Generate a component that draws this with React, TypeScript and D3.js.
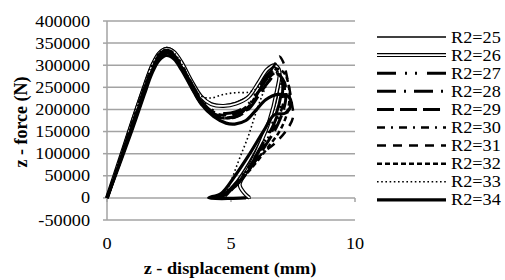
import * as d3 from "d3";

const W = 505;
const H = 280;
const PLOT = { left: 107, right: 355, top: 21, bottom: 220 };

const xTicks = [0, 5, 10];
const yTicks = [-50000, 0, 50000, 100000, 150000, 200000, 250000, 300000, 350000, 400000];

const seriesNames = ["R2=25", "R2=26", "R2=27", "R2=28", "R2=29", "R2=30", "R2=31", "R2=32", "R2=33", "R2=34"];

// displacement (mm), force (N)
const r25: [number, number][] = [
  [0, 0], [0.5, 88000], [1.0, 176000], [1.5, 258000], [1.8, 302000], [2.1, 330000], [2.4, 340000], [2.7, 333000],
  [3.0, 310000], [3.4, 268000], [3.8, 232000], [4.2, 214000], [4.7, 210000], [5.2, 216000], [5.7, 230000],
  [6.1, 258000], [6.45, 285000], [6.75, 296000], [6.95, 282000], [6.9, 238000], [6.6, 180000], [6.1, 120000],
  [5.6, 70000], [5.1, 30000], [4.6, 6000], [4.2, 0], [5.8, 0],
];
const r26: [number, number][] = [
  [0, 0], [0.5, 84000], [1.0, 169000], [1.5, 251000], [1.8, 297000], [2.1, 327000], [2.4, 337000], [2.7, 330000],
  [3.0, 307000], [3.4, 265000], [3.8, 229000], [4.2, 212000], [4.7, 208000], [5.2, 213000], [5.7, 228000],
  [6.1, 260000], [6.45, 290000], [6.75, 300000], [6.95, 287000], [6.85, 242000], [6.55, 175000], [6.1, 112000],
  [5.7, 66000], [5.35, 30000], [5.55, 10000], [5.75, 0],
];
const r27: [number, number][] = [
  [0, 0], [0.5, 82000], [1.0, 165000], [1.5, 247000], [1.8, 293000], [2.1, 324000], [2.4, 334000], [2.7, 326000],
  [3.0, 302000], [3.4, 260000], [3.8, 222000], [4.2, 200000], [4.7, 191000], [5.2, 195000], [5.7, 212000],
  [6.1, 245000], [6.45, 278000], [6.75, 290000], [7.0, 275000], [7.0, 228000], [6.7, 172000], [6.2, 115000],
  [5.6, 60000], [5.0, 20000], [4.5, 0],
];
const r28: [number, number][] = [
  [0, 0], [0.5, 81000], [1.0, 163000], [1.5, 244000], [1.8, 291000], [2.1, 322000], [2.4, 332000], [2.7, 324000],
  [3.0, 300000], [3.4, 258000], [3.8, 220000], [4.2, 197000], [4.7, 187000], [5.2, 190000], [5.7, 205000],
  [6.1, 238000], [6.45, 272000], [6.8, 286000], [7.05, 268000], [7.05, 225000], [6.75, 170000], [6.25, 118000],
  [5.7, 66000], [5.1, 24000], [4.6, 0],
];
const r29: [number, number][] = [
  [0, 0], [0.5, 79000], [1.0, 160000], [1.5, 241000], [1.8, 289000], [2.1, 320000], [2.4, 330000], [2.7, 322000],
  [3.0, 298000], [3.4, 256000], [3.8, 218000], [4.2, 194000], [4.7, 182000], [5.2, 184000], [5.7, 200000],
  [6.1, 230000], [6.5, 262000], [6.85, 280000], [7.15, 262000], [7.2, 220000], [6.9, 168000], [6.35, 115000],
  [5.75, 65000], [5.1, 22000], [4.55, 0],
];
const r30: [number, number][] = [
  [0, 0], [0.5, 78000], [1.0, 158000], [1.5, 239000], [1.8, 287000], [2.1, 318000], [2.4, 328000], [2.7, 320000],
  [3.0, 296000], [3.4, 254000], [3.8, 217000], [4.2, 196000], [4.7, 187000], [5.2, 192000], [5.7, 210000],
  [6.1, 240000], [6.5, 270000], [6.8, 282000], [7.1, 268000], [7.15, 228000], [6.85, 172000], [6.3, 118000],
  [5.7, 68000], [5.05, 25000], [4.5, 0],
];
const r31: [number, number][] = [
  [0, 0], [0.5, 77000], [1.0, 156000], [1.5, 237000], [1.8, 285000], [2.1, 316000], [2.4, 326000], [2.7, 318000],
  [3.0, 294000], [3.4, 252000], [3.8, 214000], [4.2, 191000], [4.7, 180000], [5.2, 183000], [5.7, 202000],
  [6.1, 238000], [6.5, 278000], [6.8, 305000], [6.95, 320000], [7.1, 308000], [7.3, 262000], [7.45, 215000],
  [7.5, 182000], [7.2, 150000], [6.7, 120000], [6.25, 100000], [5.6, 55000], [5.0, 18000], [4.6, 0],
];
const r32: [number, number][] = [
  [0, 0], [0.5, 76000], [1.0, 154000], [1.5, 235000], [1.8, 283000], [2.1, 314000], [2.4, 324000], [2.7, 316000],
  [3.0, 292000], [3.4, 250000], [3.8, 212000], [4.2, 190000], [4.7, 180000], [5.2, 185000], [5.7, 206000],
  [6.1, 240000], [6.5, 272000], [6.85, 292000], [7.15, 282000], [7.35, 245000], [7.3, 200000], [7.0, 155000],
  [6.5, 115000], [5.9, 72000], [5.2, 28000], [4.7, 0],
];
const r33: [number, number][] = [
  [0, 0], [0.5, 86000], [1.0, 172000], [1.5, 254000], [1.8, 299000], [2.1, 328000], [2.4, 336000], [2.7, 328000],
  [3.0, 304000], [3.4, 262000], [3.8, 230000], [4.2, 226000], [4.7, 234000], [5.2, 238000], [5.7, 239000],
  [6.1, 250000], [6.45, 275000], [6.7, 290000], [6.6, 275000], [6.3, 238000], [6.0, 192000], [5.7, 140000],
  [5.35, 90000], [5.05, 45000], [4.75, 0],
];
const r34: [number, number][] = [
  [0, 0], [0.5, 75000], [1.0, 152000], [1.5, 233000], [1.8, 280000], [2.1, 311000], [2.4, 322000], [2.7, 314000],
  [3.0, 290000], [3.4, 250000], [3.8, 212000], [4.3, 184000], [4.8, 169000], [5.15, 167000], [5.6, 175000],
  [6.0, 198000], [6.4, 222000], [6.9, 234000], [7.3, 230000], [7.42, 212000], [7.2, 192000], [6.75, 188000],
  [6.3, 150000], [5.7, 95000], [5.1, 45000], [4.6, 10000], [4.1, 0], [5.6, 0],
];

const seriesData = [r25, r26, r27, r28, r29, r30, r31, r32, r33, r34];

type LineStyle = { width: number; dash?: string; double?: boolean };

const styles: LineStyle[] = [
  { width: 1.5 },
  { width: 4, double: true },
  { width: 3, dash: "19 9 2 8 2 10" },
  { width: 3, dash: "19 8 2 8" },
  { width: 3, dash: "17 6" },
  { width: 2.5, dash: "8 6 2 6" },
  { width: 2.5, dash: "9 7" },
  { width: 2.5, dash: "5 3" },
  { width: 1.6, dash: "1.6 2.6" },
  { width: 3.2 },
];

const FONT = "'Liberation Serif', 'Times New Roman', serif";
const SX = 1.14;

const Stroke = ({ d, s }: { d: string; s: LineStyle }) => {
  if (s.double) {
    return (
      <g>
        <path d={d} fill="none" stroke="#000" strokeWidth={s.width} />
        <path d={d} fill="none" stroke="#fff" strokeWidth={s.width - 2.4} />
      </g>
    );
  }
  return (
    <path
      d={d}
      fill="none"
      stroke="#000"
      strokeWidth={s.width}
      strokeDasharray={s.dash}
      strokeLinecap="butt"
      strokeLinejoin="round"
    />
  );
};

export default function App() {
  const x = d3.scaleLinear().domain([0, 10]).range([PLOT.left, PLOT.right]);
  const y = d3.scaleLinear().domain([-50000, 400000]).range([PLOT.bottom, PLOT.top]);

  const line = d3
    .line<[number, number]>()
    .x((d) => x(d[0]))
    .y((d) => y(d[1]))
    .curve(d3.curveCatmullRom.alpha(0.5));

  const legendX0 = 377;
  const legendX1 = 446;
  const legendY0 = 37;
  const legendStep = 18.1;

  return (
    <svg width={W} height={H} style={{ position: "absolute", left: 0, top: 0, background: "#fff" }}>
      {/* grid */}
      {yTicks.map((t) => (
        <line key={t} x1={PLOT.left} x2={PLOT.right} y1={y(t)} y2={y(t)} stroke="#a3a3a3" strokeWidth={1.5} />
      ))}
      {/* y axis */}
      <line x1={PLOT.left} x2={PLOT.left} y1={PLOT.top} y2={PLOT.bottom} stroke="#a3a3a3" strokeWidth={1.5} />
      {yTicks.map((t) => (
        <line key={"yt" + t} x1={PLOT.left - 4} x2={PLOT.left} y1={y(t)} y2={y(t)} stroke="#a3a3a3" strokeWidth={1.5} />
      ))}
      {xTicks.map((t) => (
        <line key={"xt" + t} x1={x(t)} x2={x(t)} y1={y(0)} y2={y(0) + 4} stroke="#a3a3a3" strokeWidth={1.5} />
      ))}

      {/* y tick labels */}
      {yTicks.map((t) => (
        <text
          key={"yl" + t}
          transform={`translate(90,${y(t) + 5.5}) scale(${SX},1)`}
          textAnchor="end"
          fontFamily={FONT}
          fontSize={16}
        >
          {String(t)}
        </text>
      ))}
      {/* x tick labels */}
      {xTicks.map((t) => (
        <text
          key={"xl" + t}
          transform={`translate(${x(t)},249) scale(${SX},1)`}
          textAnchor="middle"
          fontFamily={FONT}
          fontSize={16}
        >
          {String(t)}
        </text>
      ))}

      {/* series */}
      {seriesData.map((data, i) => (
        <Stroke key={seriesNames[i]} d={line(data) || ""} s={styles[i]} />
      ))}

      {/* axis titles */}
      <text
        transform={`translate(230,274) scale(${SX},1)`}
        textAnchor="middle"
        fontFamily={FONT}
        fontWeight="bold"
        fontSize={16}
      >
        z - displacement (mm)
      </text>
      <text
        transform="translate(27,122) rotate(-90)"
        textAnchor="middle"
        fontFamily={FONT}
        fontWeight="bold"
        fontSize={18}
      >
        z - force (N)
      </text>

      {/* legend */}
      {seriesNames.map((name, i) => {
        const ly = legendY0 + i * legendStep;
        return (
          <g key={"lg" + name}>
            <Stroke d={`M${legendX0},${ly}L${legendX1},${ly}`} s={styles[i]} />
            <text
              transform={`translate(451,${ly + 5.5}) scale(${SX},1)`}
              fontFamily={FONT}
              fontSize={16}
            >
              {name}
            </text>
          </g>
        );
      })}
    </svg>
  );
}
